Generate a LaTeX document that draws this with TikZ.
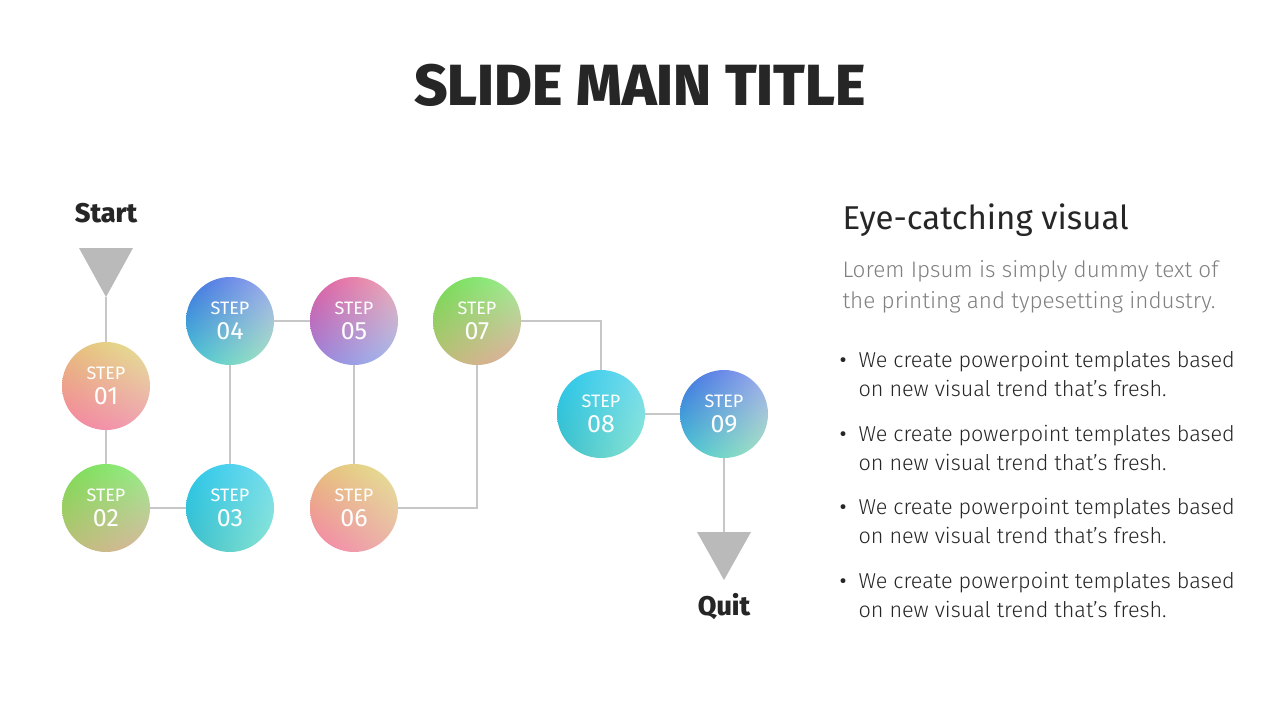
\documentclass[tikz,border=0pt]{standalone}
\usepackage{fontspec}
\usetikzlibrary{shadings,calc}
\setmainfont{Fira Sans}
\newfontfamily\boldf{Fira Sans ExtraBold}
\newfontfamily\lightf{Fira Sans Light}
\begin{document}
\begin{tikzpicture}[x=1pt,y=-1pt,
  conn/.style={draw=black!22,line width=1.2pt},
  tri/.style={fill=black!27},
  stepc/.style={circle,minimum size=88pt,inner sep=0pt,text=white,align=center,font=\fontsize{18}{25}\selectfont},
  bodyt/.style={anchor=base west,font=\lightf\fontsize{21.6}{21.6}\selectfont,text=black!85},
]
\useasboundingbox (0,0) rectangle (1280,720);
\fill[white] (0,0) rectangle (1280,720);
\node[font=\boldf\fontsize{58}{58}\selectfont,text=black!85] (title) at (640,85) {SLIDE MAIN TITLE};
\node[font=\boldf\fontsize{27}{27}\selectfont,text=black!85] (start) at (106,213) {Start};
\node[font=\boldf\fontsize{27}{27}\selectfont,text=black!85] (quit) at (724,607) {Quit};
\coordinate (p1) at (106,386); \coordinate (p2) at (106,508); \coordinate (p3) at (230,508);
\coordinate (p4) at (230,321); \coordinate (p5) at (354,321); \coordinate (p6) at (354,508);
\coordinate (p7) at (477,321); \coordinate (p8) at (601,414); \coordinate (p9) at (724,414);
\coordinate (t1) at (106,297); \coordinate (t2) at (724,532);
\draw[conn] (t1) -- (p1) -- (p2) -- (p3) -- (p4) -- (p5) -- (p6) -| (p7) -| (p8) -- (p9) -- (t2);
\fill[tri] (79,248) -- (133,248) -- (t1) -- cycle;
\fill[tri] (697,532) -- (751,532) -- (724,580) -- cycle;
\newcommand\stepball[6]{%
  \definecolor{ula}{HTML}{#3}\definecolor{ura}{HTML}{#4}\definecolor{lla}{HTML}{#5}\definecolor{lra}{HTML}{#6}%
  \begin{scope}
  \clip (#1) circle (44);
  \shade[upper left=ula,upper right=ura,lower left=lla,lower right=lra] ($(#1)+(-44,-44)$) rectangle ($(#1)+(44,44)$);
  \end{scope}
  \node[stepc] (s#2) at (#1) {STEP\\{\fontsize{25}{25}\selectfont #2}};}
\stepball{p1}{01}{E6BE78}{E4E496}{F582A0}{F0A0B4}
\stepball{p2}{02}{78DC50}{96F08C}{BEBE78}{DCB4A0}
\stepball{p3}{03}{28C8EB}{78DCF0}{3CBEC8}{8CE6D2}
\stepball{p4}{04}{3C6EE1}{A0AAF0}{46C8D2}{AAE6BE}
\stepball{p5}{05}{E15AA0}{F0AAB4}{9682DC}{A0BEF0}
\stepball{p6}{06}{E6BE78}{E4E496}{F582AA}{EBB4AA}
\stepball{p7}{07}{6EDC50}{A0F096}{BEBE78}{E6AAA0}
\stepball{p8}{08}{28C8EB}{78DCF0}{3CBEC8}{8CE6D2}
\stepball{p9}{09}{3C6EE1}{A0AAF0}{46C8D2}{AAE6BE}
\node[anchor=base west,font=\fontsize{33}{33}\selectfont,text=black!85] (h) at (839,229) {Eye-catching visual};
\node[anchor=base west,font=\lightf\fontsize{22.5}{22.5}\selectfont,text=black!50] (l1) at (839,277) {Lorem Ipsum is simply dummy text of};
\node[anchor=base west,font=\lightf\fontsize{22.5}{22.5}\selectfont,text=black!50] (l2) at (839,308) {the printing and typesetting industry.};
\foreach \y [count=\i] in {367,441,514,588}{
  \node[bodyt,font=\fontsize{21.6}{21.6}\selectfont] (b\i) at (836,\y) {•};
  \node[bodyt] (ba\i) at (855,\y) {We create powerpoint templates based};
  \node[bodyt] (bb\i) at (855,\y+29) {on new visual trend that’s fresh.};
}
\end{tikzpicture}
\end{document}
